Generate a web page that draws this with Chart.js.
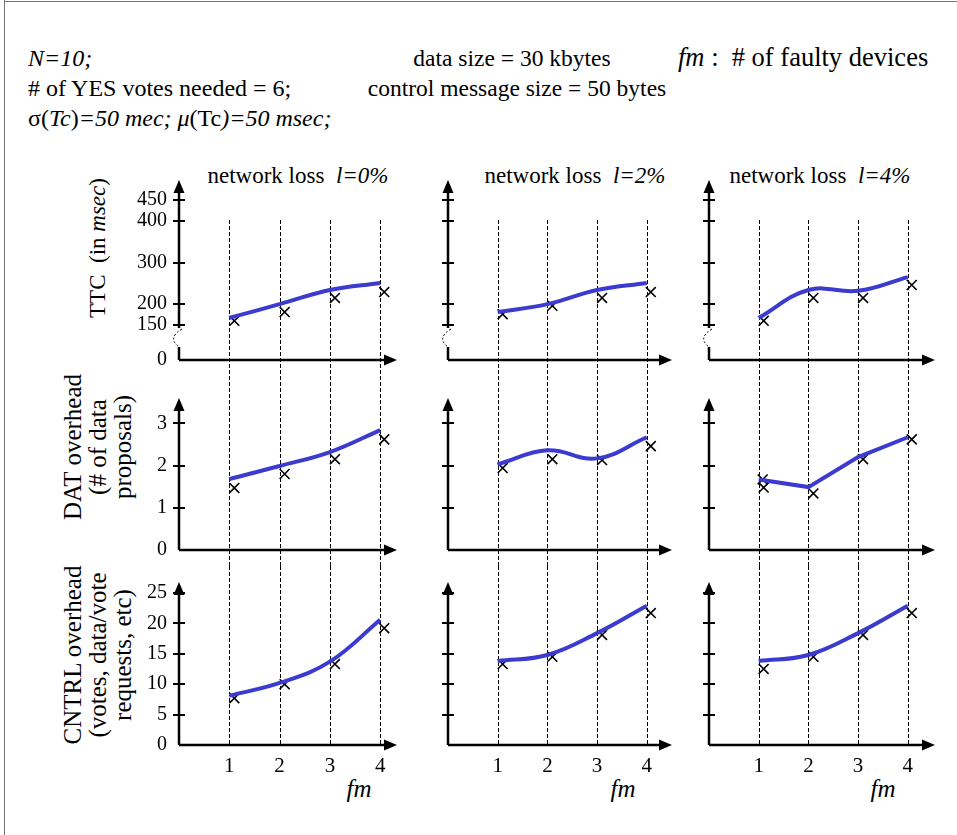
<!DOCTYPE html>
<html>
<head>
<meta charset="utf-8">
<script src="https://cdn.jsdelivr.net/npm/chart.js@4.4.0/dist/chart.umd.min.js"></script>
<style>
body { margin: 0; background: #fff; width: 957px; height: 835px; overflow: hidden; position: relative;
       font-family: "Liberation Serif", "Times New Roman", serif; color: #000; }
canvas { position: absolute; left: 0; top: 0; }
.t { position: absolute; white-space: nowrap; font-size: 24px; line-height: 30px; }
.big { font-size: 26.5px; }
.c { transform: translateX(-50%); }
.ttl { position: absolute; white-space: nowrap; font-size: 23px; line-height: 26px; transform: translate(-50%, -50%); }
.fm { font-size: 25px; }
.rot { position: absolute; white-space: nowrap; text-align: center; font-size: 25px; line-height: 25px;
       transform: translate(-50%, -50%) rotate(-90deg); }
</style>
</head>
<body>
<div style="position:absolute;left:4px;top:0;width:1px;height:835px;background:#777"></div>
<div style="position:absolute;left:4px;top:1px;width:953px;height:1px;background:#777"></div>

<div class="t" style="left:28px;top:43px"><i>N=10;</i></div>
<div class="t" style="left:28px;top:73px"># of YES votes needed = 6;</div>
<div class="t" style="left:28px;top:103px">&sigma;(<i>Tc</i>)<i>=50 mec; &mu;</i>(Tc<i>)=50 msec;</i></div>
<div class="t c" style="left:512px;top:43px;font-size:23.5px">data size = 30 kbytes</div>
<div class="t c" style="left:517px;top:73px;font-size:23.5px">control message size = 50 bytes</div>
<div class="t big" style="left:678px;top:42px"><i>fm</i> :&nbsp; # of faulty devices</div>

<div class="rot" style="left:97px;top:248px;font-size:23px">TTC&nbsp; (in <i>msec</i>)</div>
<div class="rot" style="left:97px;top:447px">DAT overhead<br>(# of data<br>proposals)</div>
<div class="rot" style="left:97px;top:655px">CNTRL overhead<br>(votes, data/vote<br>requests, etc)</div>

<div id="titles"></div>

<script>
// x values (number of faulty devices) and simulation marker positions
var fm = [1, 2, 3, 4];
var markX = [1.1, 2.1, 3.1, 4.08];
var lossTitles = ["l=0%", "l=2%", "l=4%"];

// y tick labels per row
var ttcTicks = [150, 200, 300, 400, 450];
var datTicks = [1, 2, 3];
var cntrlTicks = [5, 10, 15, 20, 25];

// TTC (msec): analytic curve and simulation X's, one list per loss rate
var ttcCurve = [[167, 200, 234, 251], [181, 200, 234, 251], [167, 234, 232, 265]];
var ttcSim   = [[160, 181, 215, 229], [176, 196, 215, 229], [160, 215, 215, 246]];

// DAT overhead (# of data proposals)
var datCurve = [[1.68, 1.99, 2.32, 2.84], [2.03, 2.36, 2.17, 2.67], [1.67, 1.49, 2.20, 2.67]];
var datSim   = [[1.47, 1.80, 2.15, 2.62], [1.94, 2.15, 2.13, 2.46], [1.48, 1.34, 2.15, 2.62]];
var datSimExtra = [[], [], [{ x: 1.08, y: 1.67 }]];

// CNTRL overhead
var cntrlCurve = [[8.1, 10.2, 13.7, 20.6], [13.8, 14.8, 18.4, 22.9], [13.8, 14.8, 18.4, 22.9]];
var cntrlSim   = [[7.7, 10.0, 13.3, 19.2], [13.3, 14.5, 18.1, 21.7], [12.5, 14.5, 18.1, 21.7]];

// ---- layout ----
var W = 957, H = 835, YW = 60, XH = 40;
var colAxisX = [179, 448, 709];
var colArrowX = [397, 672, 935];
var colUnit = [50.3, 49.7, 49.7];
var titleX = [298, 575, 820];
var fmLabelX = [359, 623, 883];
var rowLayout = [
  { axisY: 360, topY: 180, base: 66, max: 498, dash: [220, 376] },
  { axisY: 550, topY: 398, base: 0, max: 3.6, dash: [376, 566] },
  { axisY: 745, topY: 582, base: 0, max: 26.8, dash: [566, 745] }
];
var rowTicks = [ttcTicks, datTicks, cntrlTicks];
var curves = [ttcCurve, datCurve, cntrlCurve];
var sims = [ttcSim, datSim, cntrlSim];
var extras = [[[], [], []], datSimExtra, [[], [], []]];
var tensions = [[0.4, 0.4, 0.4], [0.4, 0.4, 0], [0.4, 0.4, 0.4]];
var lineBlue = '#3b3bd0';
var serif = 'Liberation Serif';

var titles = document.getElementById('titles');
lossTitles.forEach(function (t, c) {
  var d = document.createElement('div');
  d.className = 'ttl';
  d.style.left = titleX[c] + 'px';
  d.style.top = '176px';
  d.innerHTML = 'network loss&nbsp; <i>' + t + '</i>';
  titles.appendChild(d);
  var f = document.createElement('div');
  f.className = 'ttl fm';
  f.style.left = fmLabelX[c] + 'px';
  f.style.top = '789px';
  f.innerHTML = '<i>fm</i>';
  titles.appendChild(f);
});

function makePanel(r, c) {
  var lay = rowLayout[r];
  var ticks = rowTicks[r];
  var showX = r === 2;
  var canvas = document.createElement('canvas');
  canvas.width = W;
  canvas.height = H;
  document.body.appendChild(canvas);

  var artPlugin = {
    id: 'axisArt',
    beforeDatasetsDraw: function (chart) {
      var ctx = chart.ctx, xs = chart.scales.x, ys = chart.scales.y, a = chart.chartArea;
      ctx.save();
      // dashed guides at each fm
      ctx.strokeStyle = '#000';
      ctx.lineWidth = 1;
      ctx.setLineDash([4, 2]);
      fm.forEach(function (v) {
        var x = Math.round(xs.getPixelForValue(v)) + 0.5;
        ctx.beginPath();
        ctx.moveTo(x, lay.dash[0]);
        ctx.lineTo(x, lay.dash[1]);
        ctx.stroke();
      });
      ctx.setLineDash([]);
      ctx.lineWidth = 2.5;
      ctx.fillStyle = '#000';
      // x axis with arrow
      ctx.beginPath();
      ctx.moveTo(a.left, a.bottom);
      ctx.lineTo(a.right - 8, a.bottom);
      ctx.stroke();
      ctx.beginPath();
      ctx.moveTo(a.right, a.bottom);
      ctx.lineTo(a.right - 13, a.bottom - 5.5);
      ctx.lineTo(a.right - 13, a.bottom + 5.5);
      ctx.closePath();
      ctx.fill();
      // y axis with arrow (broken between 0 and 150 on the TTC row)
      ctx.beginPath();
      if (r === 0) {
        var y150 = ys.getPixelForValue(ticks[0]);
        ctx.moveTo(a.left, a.top + 8);
        ctx.lineTo(a.left, y150 + 3);
        ctx.moveTo(a.left, a.bottom - 13);
        ctx.lineTo(a.left, a.bottom);
        ctx.stroke();
        ctx.lineWidth = 1;
        ctx.setLineDash([2, 2]);
        ctx.beginPath();
        ctx.moveTo(a.left + 3, y150 + 4);
        ctx.quadraticCurveTo(a.left - 12, y150 + 13, a.left, a.bottom - 13);
        ctx.stroke();
        ctx.setLineDash([]);
        ctx.lineWidth = 2.5;
      } else {
        ctx.moveTo(a.left, a.top + 8);
        ctx.lineTo(a.left, a.bottom);
        ctx.stroke();
      }
      ctx.beginPath();
      ctx.moveTo(a.left, a.top);
      ctx.lineTo(a.left - 5.5, a.top + 13);
      ctx.lineTo(a.left + 5.5, a.top + 13);
      ctx.closePath();
      ctx.fill();
      // tick marks crossing the axis
      ctx.lineWidth = 2;
      ticks.forEach(function (v) {
        var y = Math.round(ys.getPixelForValue(v));
        ctx.beginPath();
        ctx.moveTo(a.left - 6, y);
        ctx.lineTo(a.left + 6, y);
        ctx.stroke();
      });
      ctx.restore();
    }
  };

  var marks = markX.map(function (x, i) { return { x: x, y: sims[r][c][i] }; }).concat(extras[r][c]);

  new Chart(canvas, {
    type: 'scatter',
    data: {
      datasets: [
        {
          data: fm.map(function (x, i) { return { x: x, y: curves[r][c][i] }; }),
          showLine: true,
          borderColor: lineBlue,
          borderWidth: 4,
          pointRadius: 0,
          tension: tensions[r][c]
        },
        {
          data: marks,
          showLine: false,
          pointStyle: 'crossRot',
          pointRadius: 7,
          borderColor: '#000',
          borderWidth: 1.6
        }
      ]
    },
    options: {
      responsive: false,
      animation: false,
      devicePixelRatio: 1,
      events: [],
      layout: {
        padding: {
          left: colAxisX[c] - YW,
          right: W - colArrowX[c],
          top: lay.topY,
          bottom: H - lay.axisY - (showX ? XH : 0)
        }
      },
      plugins: { legend: { display: false }, tooltip: { enabled: false } },
      scales: {
        x: {
          type: 'linear',
          min: 0,
          max: (colArrowX[c] - colAxisX[c]) / colUnit[c],
          display: showX,
          grid: { display: false, drawTicks: false },
          border: { display: false },
          ticks: { padding: 9, color: '#000', font: { family: serif, size: 21 } },
          afterBuildTicks: function (s) { s.ticks = fm.map(function (v) { return { value: v }; }); },
          afterFit: function (s) { s.height = showX ? XH : 0; }
        },
        y: {
          type: 'linear',
          min: lay.base,
          max: lay.max,
          grid: { display: false, drawTicks: false },
          border: { display: false },
          ticks: {
            display: c === 0,
            padding: 12,
            color: '#000',
            font: { family: serif, size: 20 },
            callback: function (v) { return v === lay.base ? '0' : String(v); }
          },
          afterBuildTicks: function (s) { s.ticks = [lay.base].concat(ticks).map(function (v) { return { value: v }; }); },
          afterFit: function (s) { s.width = YW; }
        }
      }
    },
    plugins: [artPlugin]
  });
}

for (var r = 0; r < 3; r++) {
  for (var c = 0; c < 3; c++) {
    makePanel(r, c);
  }
}
</script>
</body>
</html>
